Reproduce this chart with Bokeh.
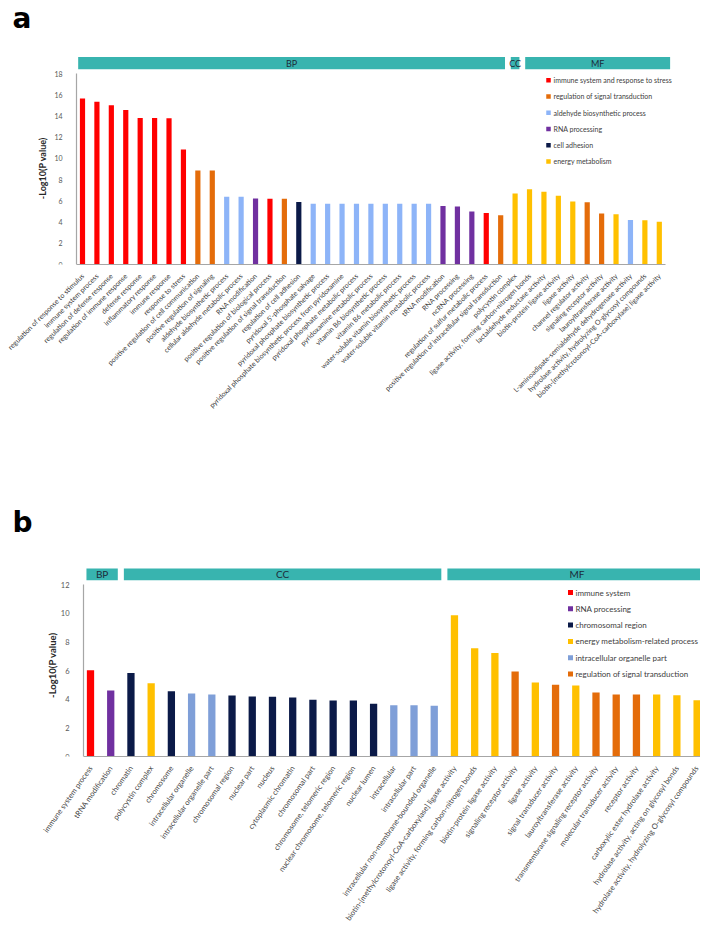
import math
from bokeh.plotting import figure
from bokeh.models import FixedTicker
from bokeh.layouts import column
from bokeh.embed import file_html
from bokeh.resources import INLINE
from bokeh.core.properties import value

# ---------------- Panel a data ----------------
a_terms = [
    "regulation of response to stimulus", "immune system process",
    "regulation of defense response", "regulation of immune response",
    "defense response", "inflammatory response", "immune response",
    "response to stress", "positive regulation of cell communication",
    "positive regulation of signaling", "aldehyde biosynthetic process",
    "cellular aldehyde metabolic process", "RNA modification",
    "positive regulation of biological process",
    "positive regulation of signal transduction", "regulation of cell adhesion",
    "pyridoxal 5'-phosphate salvage", "pyridoxal phosphate biosynthetic process",
    "pyridoxal phosphate biosynthetic process from pyridoxamine",
    "pyridoxal phosphate metabolic process", "pyridoxamine metabolic process",
    "vitamin B6 biosynthetic process", "vitamin B6 metabolic process",
    "water-soluble vitamin biosynthetic process",
    "water-soluble vitamin metabolic process", "tRNA modification",
    "RNA processing", "ncRNA processing", "regulation of sulfur metabolic process",
    "positive regulation of intracellular signal transduction",
    "polycystin complex", "ligase activity, forming carbon-nitrogen bonds",
    "lactaldehyde reductase activity", "biotin-protein ligase activity",
    "ligase activity", "channel regulator activity", "signaling receptor activity",
    "lauroyltransferase activity",
    "L-aminoadipate-semialdehyde dehydrogenase activity",
    "hydrolase activity, hydrolyzing O-glycosyl compounds",
    "biotin-[methylcrotonoyl-CoA-carboxylase] ligase activity",
]
a_values = [15.65, 15.35, 15.0, 14.55, 13.8, 13.8, 13.78, 10.85, 8.85, 8.85,
            6.38, 6.38, 6.22, 6.2, 6.2, 5.9, 5.72, 5.72, 5.72, 5.72, 5.72,
            5.72, 5.72, 5.72, 5.72, 5.52, 5.47, 5.0, 4.85, 4.65,
            6.7, 7.1, 6.85, 6.47, 5.94, 5.87, 4.81, 4.74, 4.2, 4.18, 4.02]
a_groups = (["immune"] * 8 + ["signal"] * 2 + ["aldehyde"] * 2 + ["rna", "immune", "signal", "adhesion"]
            + ["aldehyde"] * 9 + ["rna"] * 3 + ["immune", "signal"]
            + ["energy"] * 5 + ["signal"] * 2 + ["energy", "aldehyde", "energy", "energy"])
a_legend_keys = ["immune", "signal", "aldehyde", "rna", "adhesion", "energy"]
a_legend_labels = ["immune system and response to  stress", "regulation of signal transduction",
                   "aldehyde biosynthetic process", "RNA processing", "cell adhesion",
                   " energy metabolism"]
a_colors = {"immune": "#FF0000", "signal": "#E46C0A", "aldehyde": "#8DB4F8",
            "rna": "#7030A0", "adhesion": "#0B1A48", "energy": "#FFC000"}
a_ontology = ["BP", "CC", "MF"]
a_ontology_counts = [30, 1, 10]
a_yticks = [0, 2, 4, 6, 8, 10, 12, 14, 16, 18]

# ---------------- Panel b data ----------------
b_terms = [
    "immune system process", "tRNA modification", "chromatin", "polycystin complex",
    "chromosome", "intracellular organelle", "intracellular organelle part",
    "chromosomal region", "nuclear part", "nucleus", "cytoplasmic chromatin",
    "chromosomal part", "chromosome, telomeric region",
    "nuclear chromosome, telomeric region", "nuclear lumen", "intracellular",
    "intracellular part", "intracellular non-membrane-bounded organelle",
    "biotin-[methylcrotonoyl-CoA-carboxylase] ligase activity",
    "ligase activity, forming carbon-nitrogen bonds", "biotin-protein ligase activity",
    "signaling receptor activity", "ligase activity", "signal transducer activity",
    "lauroyltransferase activity", "transmembrane signaling receptor activity",
    "molecular transducer activity", "receptor activity",
    "carboxylic ester hydrolase activity", "hydrolase activity, acting on glycosyl bonds",
    "hydrolase activity, hydrolyzing O-glycosyl compounds",
]
b_values = [6.02, 4.6, 5.83, 5.11, 4.56, 4.4, 4.33, 4.26, 4.19, 4.17, 4.12, 3.96,
            3.91, 3.91, 3.68, 3.57, 3.57, 3.55, 9.86, 7.56, 7.23, 5.93, 5.16, 5.0,
            4.95, 4.47, 4.33, 4.33, 4.33, 4.28, 3.92]
b_groups = (["immune", "rna", "chrom", "energy", "chrom", "organelle", "organelle"]
            + ["chrom"] * 8 + ["organelle"] * 3 + ["energy"] * 3
            + ["signal", "energy", "signal", "energy"] + ["signal"] * 3 + ["energy"] * 3)
b_legend_keys = ["immune", "rna", "chrom", "energy", "organelle", "signal"]
b_legend_labels = ["immune system", "RNA processing", "chromosomal region",
                   "energy metabolism-related process", "intracellular organelle part",
                   "regulation of signal transduction"]
b_colors = {"immune": "#FF0000", "rna": "#7030A0", "chrom": "#0B1A48",
            "energy": "#FFC000", "organelle": "#7F9FD8", "signal": "#E46C0A"}
b_ontology = ["BP", "CC", "MF"]
b_ontology_counts = [2, 16, 13]
b_yticks = [0, 2, 4, 6, 8, 10, 12]

FONT = "Lato"
TEAL = "#38B4AF"


def make_panel(terms, vals, groups, colors, leg_keys, leg_labels, onto, onto_counts,
               yticks, letter, g):
    """g holds pixel geometry; all pixel values are relative to the frame's left / zero line."""
    n = len(terms)
    ppc = g["px_per_cat"]
    ppu = g["px_per_unit"]
    x0 = g["x0_px"]

    def dx(px):
        return (px - x0) / ppc

    def dy(px):
        return px / ppu

    x_start, x_end = dx(0), dx(g["frame_w"])
    y_end = dy(g["frame_h"])
    p = figure(frame_width=g["frame_w"], frame_height=g["frame_h"],
               x_range=(x_start, x_end), y_range=(0, y_end),
               min_border_left=0, min_border_right=0,
               min_border_top=g["bt"], min_border_bottom=g["bb"],
               output_backend="svg", toolbar_location=None, tools="")
    p.outline_line_color = None
    p.grid.visible = False
    p.background_fill_color = "white"
    p.border_fill_color = "white"

    xs = list(range(n))
    for key in leg_keys:
        idx = [i for i in xs if groups[i] == key]
        p.vbar(x=[xs[i] for i in idx], top=[vals[i] for i in idx], bottom=0,
               width=g["bar_w"], color=colors[key], line_color=None)

    start = 0
    ymax = yticks[-1]
    for k, (name, cnt) in enumerate(zip(onto, onto_counts)):
        s, e = start, start + cnt - 1
        left = s - g["outer_l"] if k == 0 else s - 0.5 + g["gap"]
        right = e + g["outer_r"] if k == len(onto) - 1 else e + 0.5 - g["gap"]
        p.quad(left=[left], right=[right], bottom=[ymax + dy(g["hb"])],
               top=[ymax + dy(g["hb"] + g["hh"])], color=TEAL, line_color=None)
        p.text(x=[(left + right) / 2], y=[ymax + dy(g["hb"] + g["hh"] / 2)], text=[name],
               text_align="center", text_baseline="middle", text_color="#1C2B3A",
               text_font=value(FONT), text_font_size=g["hdr_fs"])
        start += cnt

    lx = dx(g["leg_x_px"])
    for i, (key, lab) in enumerate(zip(leg_keys, leg_labels)):
        ly = dy(g["leg_y_px"] - i * g["leg_step_px"])
        p.scatter(x=[lx], y=[ly], marker="square", size=g["leg_sq"],
                  color=colors[key], line_color=None)
        p.text(x=[dx(g["leg_x_px"] + g["leg_tx_px"])], y=[ly], text=[lab],
               text_align="left", text_baseline="middle", text_color="#404040",
               text_font=value(FONT), text_font_size=g["leg_fs"])

    p.yaxis.fixed_location = dx(g["yaxis_px"])
    p.yaxis.ticker = FixedTicker(ticks=yticks)
    p.yaxis.bounds = (0, ymax)
    p.xaxis.ticker = FixedTicker(ticks=xs)
    p.xaxis.major_label_overrides = {i: t for i, t in enumerate(terms)}
    p.xaxis.major_label_orientation = g["angle"]
    p.xaxis.bounds = (dx(g["yaxis_px"]), dx(g["xaxis_end_px"]))
    for ax in (p.xaxis[0], p.yaxis[0]):
        ax.axis_line_color = "#A6A6A6"
        ax.axis_line_width = 1.2
        ax.major_tick_line_color = None
        ax.minor_tick_line_color = None
        ax.major_label_text_font = FONT
    p.xaxis.major_label_text_font_size = g["xl_fs"]
    p.xaxis.major_label_text_color = "#404040"
    p.xaxis.major_label_standoff = 4
    p.yaxis.major_label_text_font_size = g["yl_fs"]
    p.yaxis.major_label_text_color = "#595959"
    p.yaxis.major_label_standoff = g["y_standoff"]

    p.text(x=[dx(g["ytitle_x_px"])], y=[dy(g["ytitle_y_px"])], text=["-Log10(P value)"],
           angle=math.pi / 2, text_align="center", text_baseline="middle",
           text_font=value(FONT), text_font_style="bold", text_font_size=g["yt_fs"],
           text_color="#262626")
    p.text(x=[dx(g["letter_x_px"])], y=[dy(g["letter_y_px"])], text=[letter],
           text_align="left", text_baseline="middle", text_font=value("DejaVu Sans"),
           text_font_style="bold", text_font_size="28px", text_color="#000000")
    return p


ga = dict(px_per_cat=14.42, px_per_unit=10.61, x0_px=82, frame_w=696, frame_h=264,
          bt=0, bb=234, bar_w=0.36, outer_l=0.3, outer_r=0.75, gap=0.2,
          hb=4.3, hh=12.3, hdr_fs="9px", leg_x_px=548, leg_y_px=184.3, leg_step_px=16.25,
          leg_sq=4.5, leg_tx_px=5, leg_fs="7px", angle=math.pi / 4,
          yaxis_px=76, xaxis_end_px=665, xl_fs="7px", yl_fs="7px", y_standoff=8,
          ytitle_x_px=42, ytitle_y_px=96.3, yt_fs="9px", letter_x_px=12, letter_y_px=246)
gb = dict(px_per_cat=20.22, px_per_unit=14.33, x0_px=90, frame_w=700, frame_h=258,
          bt=0, bb=160, bar_w=0.36, outer_l=0.2, outer_r=0.46, gap=0.15,
          hb=4.3, hh=11.7, hdr_fs="10px", leg_x_px=570, leg_y_px=164, leg_step_px=16.3,
          leg_sq=5, leg_tx_px=5, leg_fs="8px", angle=55 * math.pi / 180,
          yaxis_px=83, xaxis_end_px=700, xl_fs="7.6px", yl_fs="7.5px", y_standoff=8,
          ytitle_x_px=52, ytitle_y_px=91.3, yt_fs="9.5px", letter_x_px=12, letter_y_px=234)

pa = make_panel(a_terms, a_values, a_groups, a_colors, a_legend_keys, a_legend_labels,
                a_ontology, a_ontology_counts, a_yticks, "a", ga)
pb = make_panel(b_terms, b_values, b_groups, b_colors, b_legend_keys, b_legend_labels,
                b_ontology, b_ontology_counts, b_yticks, "b", gb)

layout = column(pa, pb, spacing=0)
open("out.html", "w").write(file_html(layout, INLINE))
